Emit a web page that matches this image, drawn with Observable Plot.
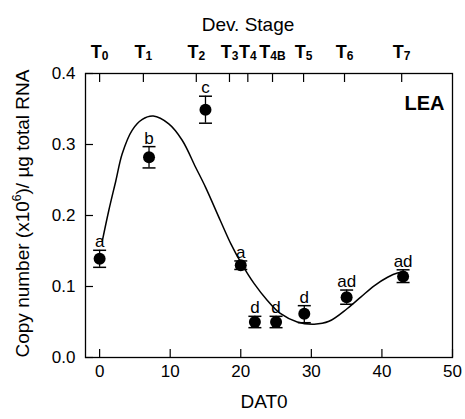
<!DOCTYPE html>
<html><head><meta charset="utf-8">
<script src="https://cdn.jsdelivr.net/npm/d3@7"></script>
<script src="https://cdn.jsdelivr.net/npm/@observablehq/plot@0.6"></script>
<style>body{margin:0;background:#fff}</style>
</head><body><div id="chart"></div>
<script>
// Measured data (DAT0 vs copy number)
const dat    = [0, 7, 15, 20, 22, 25, 29, 35, 43];
const copies = [0.139, 0.282, 0.349, 0.130, 0.050, 0.050, 0.0615, 0.085, 0.114];
const errHi  = [0.151, 0.297, 0.368, 0.136, 0.058, 0.058, 0.073, 0.095, 0.1235];
const errLo  = [0.127, 0.267, 0.330, 0.124, 0.042, 0.042, 0.049, 0.075, 0.1056];
const groups = ["a", "b", "c", "a", "d", "d", "d", "ad", "ad"];
// Fitted curve
const fitX = [0.4, 1.3, 2.3, 3.2, 4.6, 6.0, 7.6, 9.8, 11.7, 13.6, 15.0, 17.1, 18.6, 20.0, 21.9, 23.8, 25.6, 28.0, 30.4, 32.5, 35.1, 37.0, 38.9, 40.8, 42.2, 43.0];
const fitY = [0.165, 0.207, 0.249, 0.287, 0.320, 0.335, 0.340, 0.329, 0.306, 0.268, 0.240, 0.193, 0.160, 0.134, 0.104, 0.080, 0.062, 0.050, 0.047, 0.051, 0.069, 0.085, 0.101, 0.113, 0.119, 0.120];
// Developmental stages (top axis)
const stageX   = [0, 6.2, 13.7, 18.4, 21, 24.5, 28.9, 34.7, 42.8];
const stageSub = ["0", "1", "2", "3", "4", "4B", "5", "6", "7"];
const xTicks = [0, 10, 20, 30, 40, 50];
const yTicks = [0, 0.1, 0.2, 0.3, 0.4];

const cap = {draw(ctx, size) { const w = Math.sqrt(size / Math.PI); ctx.moveTo(-w, 0); ctx.lineTo(w, 0); }};

const chart = Plot.plot({
  width: 465, height: 419,
  marginLeft: 85, marginRight: 13, marginTop: 73, marginBottom: 62,
  style: {fontFamily: "Liberation Sans, Arial, sans-serif", fontSize: "17px", color: "black", background: "white"},
  x: {domain: [-2, 50]},
  y: {domain: [0, 0.4]},
  marks: [
    Plot.axisX({anchor: "bottom", ticks: xTicks, tickSize: -8, tickPadding: 15, label: null, fontSize: 17, strokeWidth: 1.2}),
    Plot.axisX({anchor: "top", ticks: stageX, tickSize: -8, tickFormat: () => "", label: null, strokeWidth: 1.2}),
    Plot.axisY({anchor: "left", ticks: yTicks, tickSize: -8, tickPadding: 18, tickFormat: d3.format(".1f"), label: null, fontSize: 17, strokeWidth: 1.2}),
    Plot.frame({stroke: "black", strokeWidth: 1.3}),
    Plot.line(fitY, {x: fitX, y: fitY, curve: "catmull-rom", stroke: "black", strokeWidth: 1.5}),
    Plot.ruleX(dat, {x: dat, y1: errLo, y2: errHi, stroke: "black", strokeWidth: 1.3}),
    Plot.dot(dat, {x: dat, y: errHi, symbol: cap, r: 6.5, fill: "none", stroke: "black", strokeWidth: 1.5}),
    Plot.dot(dat, {x: dat, y: errLo, symbol: cap, r: 6.5, fill: "none", stroke: "black", strokeWidth: 1.5}),
    Plot.dot(dat, {x: dat, y: copies, r: 6, fill: "black", stroke: "none"}),
    Plot.text(dat, {x: dat, y: errHi, text: groups, lineAnchor: "bottom", dy: -3, fontSize: 17, fill: "black"}),
    Plot.text(stageX, {x: stageX, text: stageSub, frameAnchor: "top", textAnchor: "middle", lineAnchor: "bottom", dy: -16, fontSize: 18, fontWeight: "bold", fill: "black", className: "stagelab"}),
    Plot.text(["Dev. Stage"], {frameAnchor: "top", textAnchor: "middle", dx: -21, dy: -43, lineAnchor: "bottom", fontSize: 19, fill: "black"}),
    Plot.text(["DAT0"], {frameAnchor: "bottom", textAnchor: "middle", dx: -5, dy: 50, lineAnchor: "bottom", fontSize: 19, fill: "black"}),
    Plot.text(["LEA"], {frameAnchor: "top-right", dx: -8, dy: 22, textAnchor: "end", lineAnchor: "top", fontSize: 20, fontWeight: "bold", fill: "black"}),
    Plot.text(["Copy number"], {frameAnchor: "left", textAnchor: "middle", dx: -63, dy: -2, rotate: -90, fontSize: 19, fill: "black", className: "ylab"})
  ]
});
document.getElementById("chart").appendChild(chart);

// Subscripts for stage labels
chart.querySelectorAll(".stagelab text").forEach((el, i) => {
  const t = d3.select(el);
  t.text("T");
  t.append("tspan").attr("font-size", 12).attr("dy", 2).text(stageSub[i]);
});
// Superscript in y label
chart.querySelectorAll(".ylab text").forEach(el => {
  const t = d3.select(el);
  t.text("Copy number (x10");
  t.append("tspan").attr("font-size", 12).attr("dy", -8).text("6");
  t.append("tspan").attr("dy", 8).text(")/ \u00b5g total RNA");
});
</script>
</body></html>
